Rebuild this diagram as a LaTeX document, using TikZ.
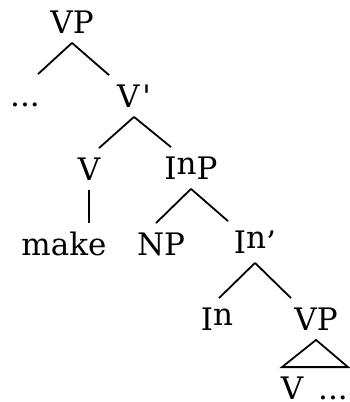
\documentclass[tikz,border=0pt]{standalone}
\usepackage{fontspec}
\setmainfont{DejaVu Serif}
\begin{document}
\begin{tikzpicture}[x=1pt,y=-1pt,line width=1.8pt]
\tikzstyle{every node}=[anchor=base,inner xsep=1pt,inner ysep=8pt,
text height=23pt,text depth=1pt,font=\fontsize{31}{38}\selectfont]
\useasboundingbox (0,0) rectangle (350,402);

\draw (72,33)  node (vp) {VP};
\draw (25,106)  node (dots1) {...};
\draw (134,107)  node (vbar) {V\hspace{3pt}\textquotesingle};
\draw (89,180)  node (v) {V};
\draw (191,179)  node (inp) {I\raisebox{5pt}{n}P};
\draw (64,255)  node (make) {make};
\draw (161,255)  node (np) {NP};
\draw (255,253)  node (inbar) {I\raisebox{5pt}{n}'};
\draw (217,330)  node (in) {I\raisebox{5pt}{n}};
\draw (316,330)  node (vp2) {VP};
\draw (292,399)  node (v2) {V};
\draw (333,399)  node (dots2) {...};

\draw (vp.south) -- ([xshift=-34pt]vp.south |- dots1.north);
\draw (vp.south) -- ([xshift=37pt]vp.south |- vbar.north);
\draw (vbar.south) -- ([xshift=-35pt]vbar.south |- v.north);
\draw (vbar.south) -- ([xshift=37pt]vbar.south |- inp.north);
\draw (v.south) -- (v.south |- make.north);
\draw (inp.south) -- ([xshift=-35pt]inp.south |- np.north);
\draw (inp.south) -- ([xshift=37pt]inp.south |- inbar.north);
\draw (inbar.south) -- ([xshift=-36pt]inbar.south |- in.north);
\draw (inbar.south) -- ([xshift=36pt]inbar.south |- vp2.north);
\draw (vp2.south) -- ([xshift=-34pt]vp2.south |- v2.north)
  -- ([xshift=32pt]vp2.south |- v2.north) -- cycle;
\end{tikzpicture}
\end{document}
